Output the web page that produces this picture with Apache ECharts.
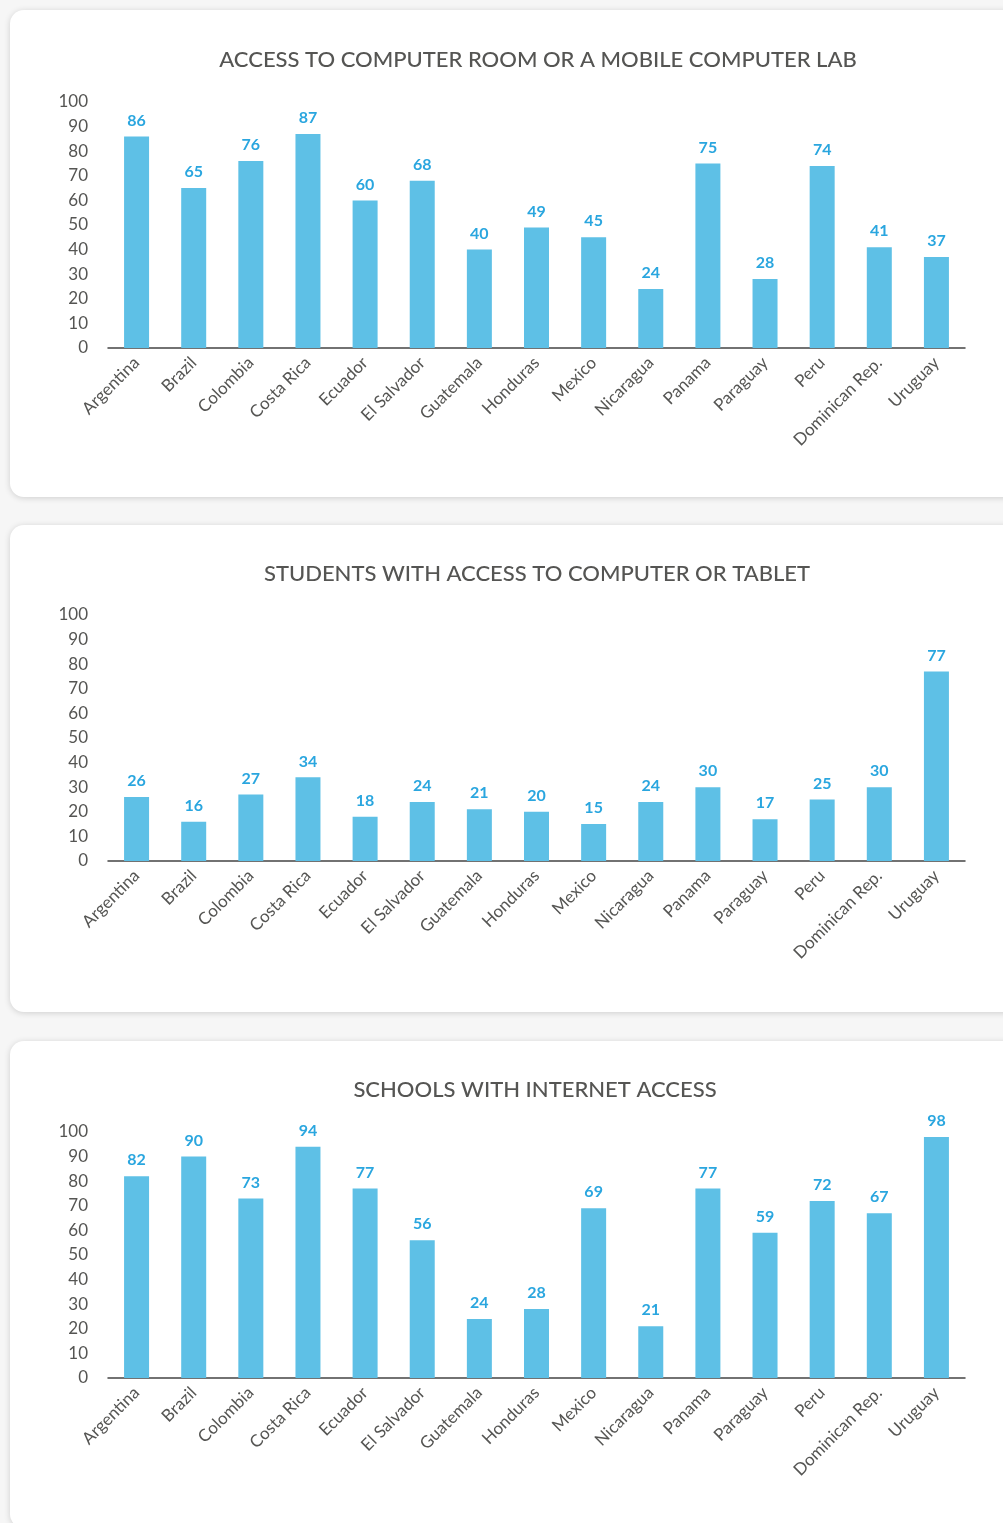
<!DOCTYPE html>
<html>
<head>
<meta charset="utf-8">
<script src="https://cdn.jsdelivr.net/npm/echarts@6/dist/echarts.min.js"></script>
<style>
  html, body { margin: 0; padding: 0; background: #f6f6f6; width: 1003px; height: 1523px; overflow: hidden; }
  .card { position: absolute; left: 10px; width: 1020px; height: 487px; background: #fff; border-radius: 14px; box-shadow: 0 1px 6px rgba(0,0,0,0.16); }
  #chart { position: absolute; left: 0; top: 0; width: 1003px; height: 1523px; }
</style>
</head>
<body>
<div class="card" style="top:10px"></div>
<div class="card" style="top:525px"></div>
<div class="card" style="top:1041px"></div>
<div id="chart"></div>
<script>
const countries = ['Argentina', 'Brazil', 'Colombia', 'Costa Rica', 'Ecuador', 'El Salvador', 'Guatemala', 'Honduras', 'Mexico', 'Nicaragua', 'Panama', 'Paraguay', 'Peru', 'Dominican Rep.', 'Uruguay'];
const computerRoom = [86, 65, 76, 87, 60, 68, 40, 49, 45, 24, 75, 28, 74, 41, 37];
const studentDevices = [26, 16, 27, 34, 18, 24, 21, 20, 15, 24, 30, 17, 25, 30, 77];
const internetAccess = [82, 90, 73, 94, 77, 56, 24, 28, 69, 21, 77, 59, 72, 67, 98];
const titles = ['ACCESS TO COMPUTER ROOM OR A MOBILE COMPUTER LAB', 'STUDENTS WITH ACCESS TO COMPUTER OR TABLET', 'SCHOOLS WITH INTERNET ACCESS'];

const FONT = 'Lato, "Noto Sans", sans-serif';
const GREY = '#555553';
const BAR = '#5ec0e6';
const LABEL = '#2aa6df';

const panels = [
  { data: computerRoom, top: 102, titleX: 538, titleY: 60 },
  { data: studentDevices, top: 615, titleX: 537, titleY: 574 },
  { data: internetAccess, top: 1132, titleX: 535, titleY: 1090 }
];

const chart = echarts.init(document.getElementById('chart'), null, { renderer: 'canvas' });

chart.setOption({
  animation: false,
  graphic: panels.map((p, i) => ({
    type: 'text', x: p.titleX, y: p.titleY,
    style: { text: titles[i], textAlign: 'center', textVerticalAlign: 'middle', fill: GREY, font: '500 22px ' + FONT }
  })),
  grid: panels.map(p => ({ left: 108, right: 38, top: p.top, height: 246, containLabel: false })),
  xAxis: panels.map((p, i) => ({
    type: 'category', gridIndex: i, data: countries,
    axisLine: { lineStyle: { color: '#444', width: 1.5 } },
    axisTick: { show: false },
    axisLabel: { rotate: 45, margin: 12, interval: 0, color: GREY, fontSize: 17, fontFamily: FONT }
  })),
  yAxis: panels.map((p, i) => ({
    type: 'value', gridIndex: i, min: 0, max: 100, interval: 10,
    axisLine: { show: false }, axisTick: { show: false }, splitLine: { show: false },
    axisLabel: { margin: 20, color: GREY, fontSize: 17, fontFamily: FONT }
  })),
  series: panels.map((p, i) => ({
    type: 'bar', xAxisIndex: i, yAxisIndex: i, data: p.data, barWidth: 25,
    itemStyle: { color: BAR },
    label: { show: true, position: 'top', distance: 8, color: LABEL, fontSize: 16, fontWeight: 'bold', fontFamily: FONT }
  }))
});
</script>
</body>
</html>
